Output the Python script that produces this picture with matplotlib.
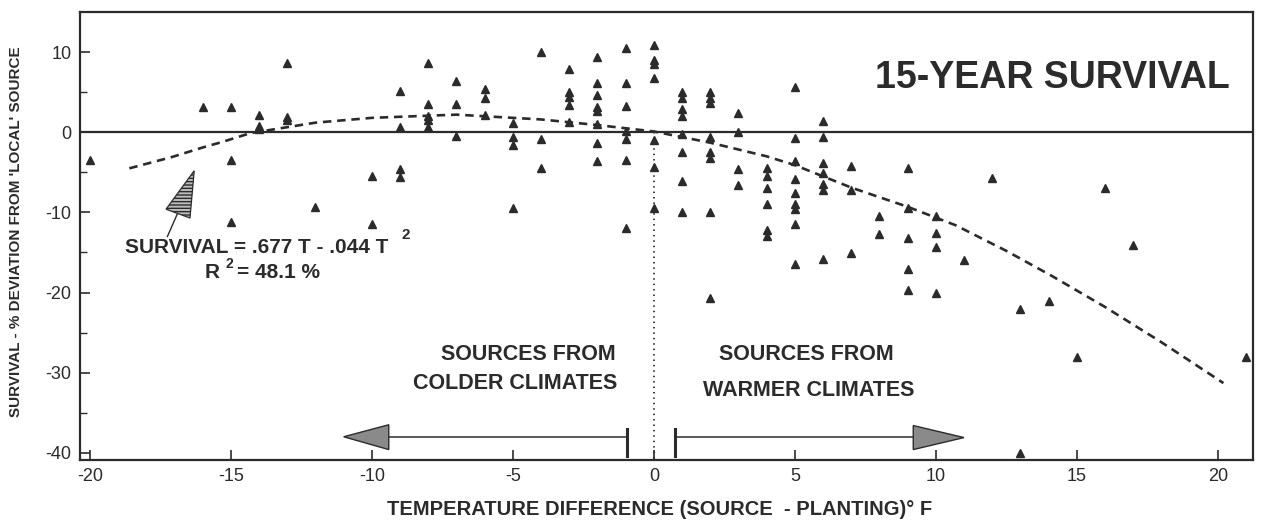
import matplotlib
matplotlib.use("Agg")
import matplotlib.pyplot as plt
from matplotlib.patches import Polygon

plt.rcParams["font.family"] = ["Liberation Sans", "DejaVu Sans"]
plt.rcParams["axes.unicode_minus"] = False

INK = "#2b2b2b"

# observed seed sources: temperature difference (source - planting, deg F)
# and 15-year survival deviation from the local source (%)
temp_diff = [
    -20,
    -16,
    -15, -15, -15,
    -14, -14, -14,
    -13, -13, -13,
    -12,
    -10, -10,
    -9, -9, -9, -9,
    -8, -8, -8, -8, -8,
    -7, -7, -7,
    -6, -6, -6,
    -5, -5, -5, -5,
    -4, -4, -4,
    -3, -3, -3, -3, -3,
    -2, -2, -2, -2, -2, -2, -2, -2,
    -1, -1, -1, -1, -1, -1, -1,
    0, 0, 0, 0, 0, 0, 0,
    1, 1, 1, 1, 1, 1, 1, 1,
    2, 2, 2, 2, 2, 2, 2, 2,
    3, 3, 3, 3,
    4, 4, 4, 4, 4, 4,
    5, 5, 5, 5, 5, 5, 5, 5, 5,
    6, 6, 6, 6, 6, 6, 6,
    7, 7, 7,
    8, 8,
    9, 9, 9, 9, 9,
    10, 10, 10, 10,
    11, 12, 13, 13, 14, 15, 16, 17, 21,
]
survival_dev = [
    -3.5,
    3.1,
    3.1, -3.5, -11.2,
    2.1, 0.8, 0.4,
    8.6, 1.9, 1.5,
    -9.3,
    -5.5, -11.5,
    5.1, 0.6, -4.6, -5.6,
    8.6, 3.5, 2.0, 1.5, 0.6,
    6.4, 3.5, -0.5,
    5.4, 4.3, 2.1,
    1.1, -0.6, -1.6, -9.5,
    10.0, -0.9, -4.5,
    7.9, 5.0, 4.4, 3.4, 1.3,
    9.4, 6.2, 4.6, 3.1, 2.6, 1.0, -1.3, -3.6,
    10.5, 6.1, 3.3, 0.2, -0.9, -3.5, -11.9,
    10.9, 9.0, 8.5, 6.8, -1.0, -4.3, -9.4,
    5.0, 4.3, 2.9, 2.0, -0.2, -2.4, -6.1, -9.9,
    5.0, 4.3, 3.6, -0.6, -2.4, -3.2, -9.9, -20.7,
    2.4, 0.0, -4.6, -6.6,
    -4.4, -5.4, -6.9, -8.9, -12.2, -13.0,
    5.6, -0.7, -3.6, -5.8, -7.6, -9.0, -9.6, -11.4, -16.5,
    1.4, -0.6, -3.8, -5.1, -6.4, -7.2, -15.8,
    -4.2, -7.2, -15.1,
    -10.4, -12.7,
    -4.4, -9.5, -13.2, -17.1, -19.7,
    -10.4, -12.6, -14.3, -20.0,
    -15.9, -5.7, -22.0, -40.0, -21.1, -28.1, -7.0, -14.1, -28.1,
]

# fitted regression curve
fit_t = [-18.6, -17.1, -16, -15.3, -14.3, -12, -10, -7, -4, -2, 0, 2, 4,
         5, 7, 9, 10.7, 12.5, 14.1, 16, 18, 20.2]
fit_y = [-4.5, -3.1, -1.9, -1.2, -0.1, 1.2, 1.8, 2.2, 1.6, 0.9, 0.1, -1.3,
         -3.0, -4.1, -6.9, -9.3, -11.6, -14.8, -17.9, -21.8, -26.2, -31.3]

x_ticks = [-20, -15, -10, -5, 0, 5, 10, 15, 20]
y_ticks = [10, 0, -10, -20, -30, -40]

fig = plt.figure(figsize=(12.62, 5.25), dpi=100)
ax = fig.add_axes([0.0634, 0.1238, 0.9295, 0.8532])

ax.plot(temp_diff, survival_dev, linestyle="none", marker="^",
        markersize=6.2, color=INK, zorder=4)
ax.plot(fit_t, fit_y, linestyle=(0, (3.2, 2.2)), color=INK, linewidth=1.9,
        zorder=3)
ax.axhline(0, color=INK, linewidth=1.6, zorder=2)
ax.plot([0, 0], [0, -41], linestyle=(0, (0.8, 2.2)), color=INK,
        linewidth=1.3, zorder=2)

ax.set_xlim(-20.35, 21.25)
ax.set_ylim(-40.9, 15)
ax.set_xticks(x_ticks)
ax.set_yticks(y_ticks)
ax.set_yticks([5, -5, -15, -25, -35], minor=True)
ax.tick_params(axis="both", direction="in", length=7, width=1.2,
               labelsize=13, colors=INK, pad=6)
ax.tick_params(axis="y", which="minor", direction="in", length=5, width=1.0,
               colors=INK)
for side in ["left", "bottom", "top", "right"]:
    ax.spines[side].set_linewidth(1.6)
    ax.spines[side].set_color(INK)

# arrows under the data: colder vs warmer sources
ax.plot([-0.95, -0.95], [-37.0, -40.4], color=INK, linewidth=2.2)
ax.plot([-0.95, -9.4], [-38.0, -38.0], color=INK, linewidth=1.1)
ax.add_patch(Polygon([[-9.4, -36.5], [-9.4, -39.6], [-11.0, -38.0]],
                     closed=True, facecolor="#8a8a8a", edgecolor=INK,
                     linewidth=1.0, zorder=3))
ax.plot([0.75, 0.75], [-37.0, -40.4], color=INK, linewidth=2.2)
ax.plot([0.75, 9.2], [-38.0, -38.0], color=INK, linewidth=1.1)
ax.add_patch(Polygon([[9.2, -36.6], [9.2, -39.6], [11.0, -38.1]],
                     closed=True, facecolor="#8a8a8a", edgecolor=INK,
                     linewidth=1.0, zorder=3))

# hatched pointer to the fitted curve
ax.add_patch(Polygon([[-16.3, -4.8], [-17.3, -9.6], [-16.45, -10.7]],
                     closed=True, facecolor="#bdbdbd", edgecolor=INK,
                     hatch="-----", linewidth=0.9, zorder=3))
ax.plot([-16.9, -17.25], [-10.2, -13.0], color=INK, linewidth=1.0)

bold = dict(fontweight="bold", color=INK)
fig.text(0.834, 0.851, "15-YEAR SURVIVAL", fontsize=27, ha="center",
         va="center", **bold)
fig.text(0.099, 0.529, "SURVIVAL = .677 T - .044 T", fontsize=15,
         ha="left", va="center", **bold)
fig.text(0.318, 0.552, "2", fontsize=11, ha="left", va="center", **bold)
fig.text(0.162, 0.480, "R", fontsize=15, ha="left", va="center", **bold)
fig.text(0.179, 0.498, "2", fontsize=10, ha="left", va="center", **bold)
fig.text(0.188, 0.480, "= 48.1 %", fontsize=15, ha="left", va="center",
         **bold)

fig.text(0.488, 0.324, "SOURCES FROM", fontsize=15.5, ha="right",
         va="center", **bold)
fig.text(0.489, 0.270, "COLDER CLIMATES", fontsize=15.5, ha="right",
         va="center", **bold)
fig.text(0.639, 0.324, "SOURCES FROM", fontsize=15.5, ha="center",
         va="center", **bold)
fig.text(0.641, 0.257, "WARMER CLIMATES", fontsize=15.5, ha="center",
         va="center", **bold)

fig.text(0.523, 0.029, "TEMPERATURE DIFFERENCE (SOURCE  - PLANTING)\u00b0 F",
         fontsize=14.5, ha="center", va="center", **bold)
fig.text(0.0127, 0.558, "SURVIVAL - % DEVIATION FROM 'LOCAL' SOURCE",
         fontsize=11, rotation=90, ha="center", va="center", **bold)

fig.savefig("out.png", dpi=100, facecolor="white")
